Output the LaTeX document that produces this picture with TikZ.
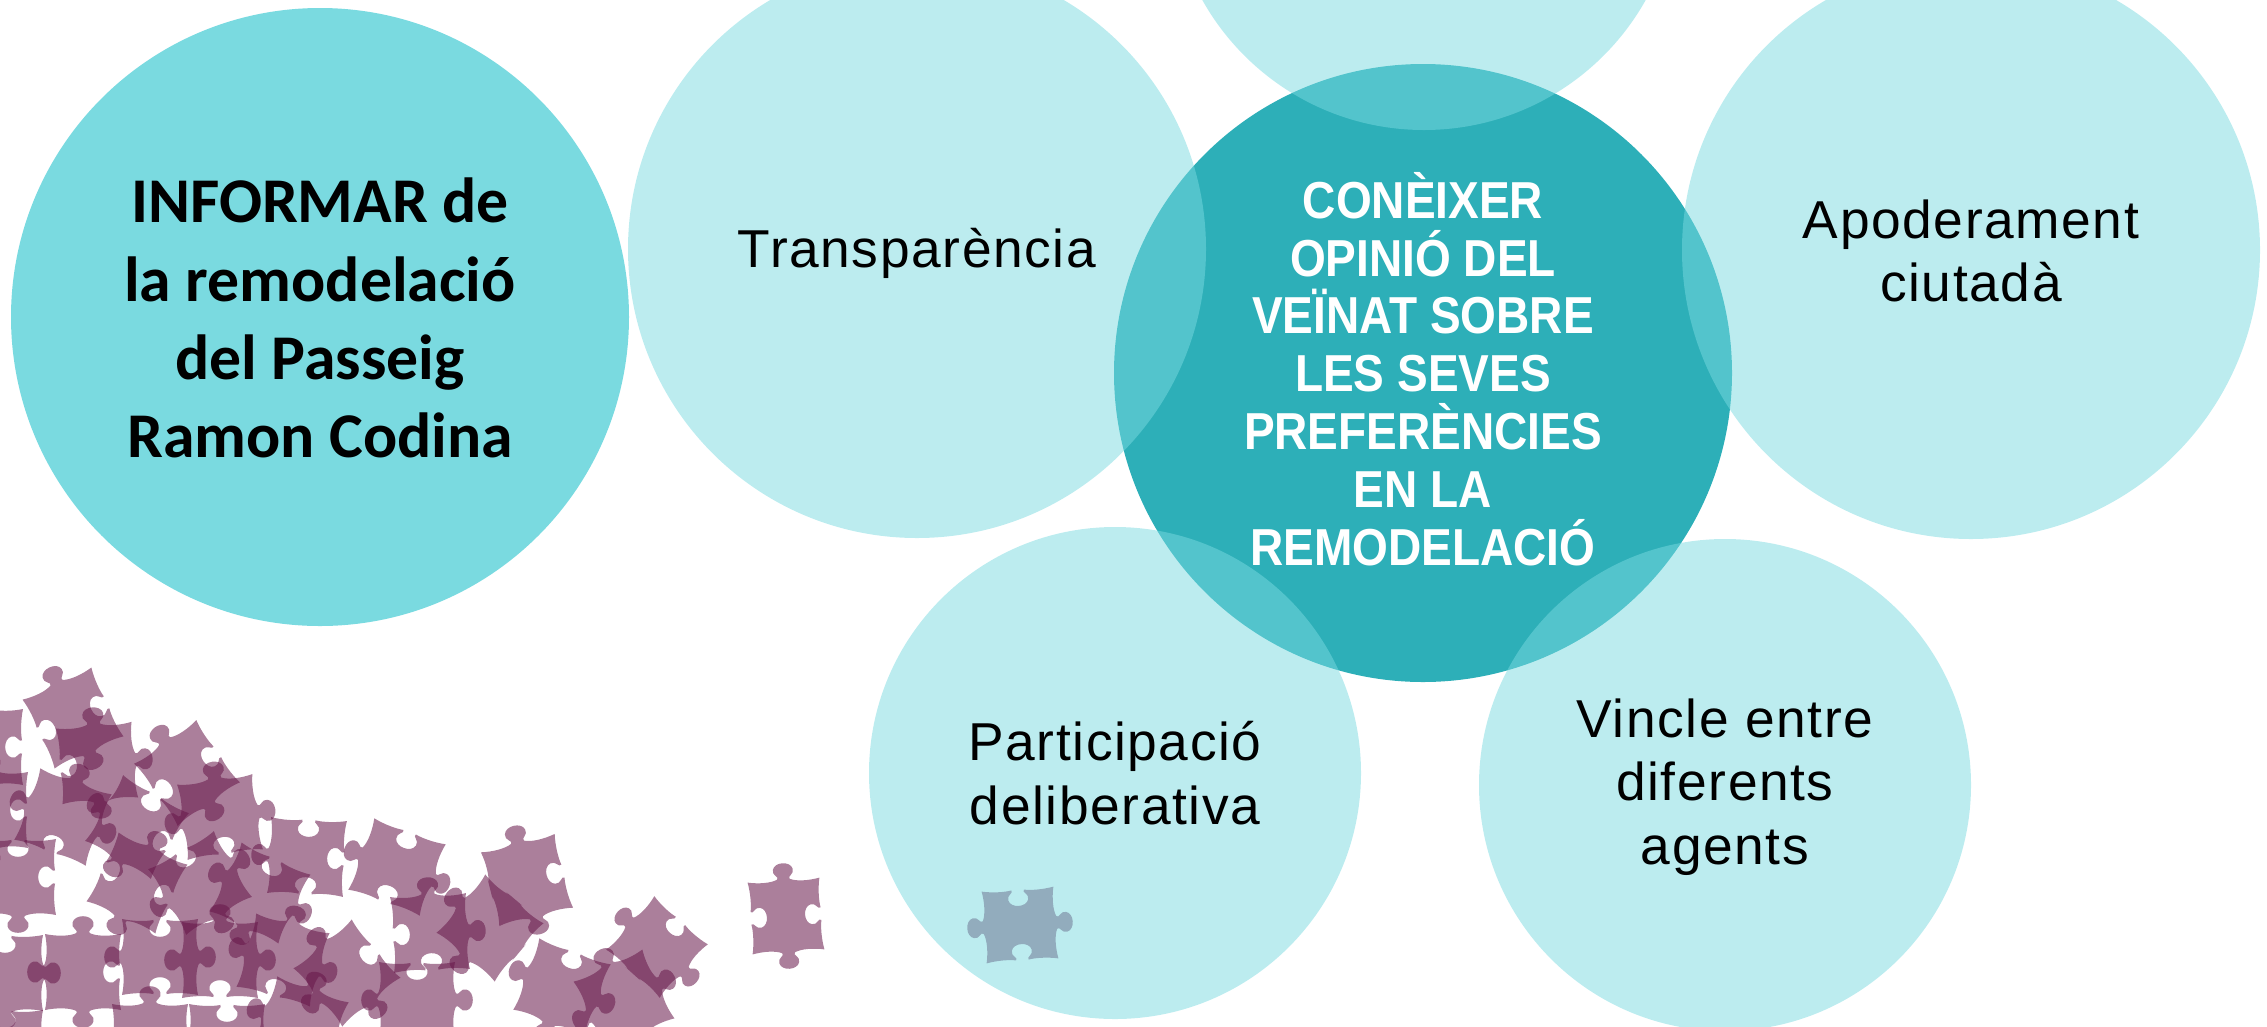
\documentclass[tikz,border=0pt]{standalone}
\usepackage{fontspec}
\setmainfont{Liberation Sans}
\newfontfamily\calib{Carlito}
\definecolor{lightc}{HTML}{7ADAE0}
\definecolor{darkc}{HTML}{2DAFB8}
\definecolor{pzc}{HTML}{661649}
\newcommand{\pzedge}[2]{%
 {[rotate=#1] .. controls (-28,37.5) and (-14,37.5) .. (-7,{40+1*#2})
 .. controls (-4,{40+4*#2}) and (-13,{40+6*#2}) .. (-11,{40+12*#2})
 .. controls (-9,{40+21*#2}) and (9,{40+21*#2}) .. (11,{40+12*#2})
 .. controls (13,{40+6*#2}) and (4,{40+4*#2}) .. (7,{40+1*#2})
 .. controls (14,37.5) and (28,37.5) .. (40,40)}}
% \pz{x}{y}{rot}{scale}{top}{right}{bottom}{left}
\newcommand{\pz}[8]{\fill[pzfill,shift={(#1,#2)},x=.75pt,y=.75pt,rotate=#3,scale=#4]
 (-40,40) \pzedge{0}{#5} \pzedge{-90}{#6} \pzedge{180}{#7} \pzedge{90}{#8} -- cycle;}
\tikzset{
 pzfill/.style={fill=pzc,fill opacity=.55},
 soft/.style={circle,inner sep=0pt,fill=lightc,fill opacity=.5},
 softtext/.style={font=\addfontfeatures{LetterSpace=3}\fontsize{40}{47.5}\selectfont,text=black,align=center},
}
\begin{document}
\begin{tikzpicture}[x=.75pt,y=-.75pt]
\clip (0,0) rectangle (2267,1026);
% puzzle pieces
\pz{73}{718}{25}{.95}{1}{-1}{1}{-1}
\pz{-15}{747}{0}{.95}{0}{-1}{1}{1}
\pz{97}{763}{5}{.95}{1}{1}{1}{-1}
\pz{63}{817}{-20}{.95}{1}{1}{-1}{1}
\pz{187}{773}{35}{.95}{1}{-1}{1}{-1}
\pz{220}{817}{8}{.95}{1}{1}{-1}{1}
\pz{137}{827}{-30}{.95}{-1}{-1}{1}{1}
\pz{-10}{810}{0}{.95}{1}{-1}{1}{0}
\pz{18}{877}{0}{.95}{-1}{-1}{1}{1}
\pz{137}{883}{-25}{.95}{1}{-1}{1}{-1}
\pz{200}{883}{30}{.95}{-1}{1}{1}{1}
\pz{260}{893}{-25}{.95}{-1}{1}{1}{1}
\pz{307}{857}{-3}{.95}{-1}{-1}{-1}{1}
\pz{397}{867}{-20}{.95}{-1}{1}{-1}{1}
\pz{83}{972}{0}{.95}{1}{-1}{1}{1}
\pz{5}{973}{0}{.95}{-1}{1}{1}{0}
\pz{160}{957}{0}{.95}{-1}{1}{-1}{1}
\pz{220}{960}{0}{.95}{1}{1}{-1}{1}
\pz{283}{960}{-15}{.95}{1}{1}{-1}{1}
\pz{347}{973}{40}{.95}{1}{-1}{1}{1}
\pz{430}{933}{3}{.95}{1}{1}{-1}{-1}
\pz{417}{1000}{0}{.95}{-1}{1}{1}{1}
\pz{150}{1042}{0}{.95}{1}{1}{1}{-1}
\pz{227}{1042}{0}{.95}{-1}{1}{1}{1}
\pz{300}{1025}{-20}{.95}{1}{1}{1}{1}
\pz{5}{1048}{0}{.95}{-1}{1}{1}{0}
\pz{527}{880}{14}{.95}{1}{-1}{1}{0}
\pz{490}{928}{-40}{.95}{0}{0}{1}{1}
\pz{657}{947}{-42}{.9}{-1}{1}{0}{1}
\pz{562}{987}{-20}{.95}{-1}{1}{1}{1}
\pz{624}{1000}{25}{.95}{1}{1}{1}{1}
\pz{786}{916}{4}{.9}{1}{-1}{1}{-1}
\pz{1020}{925}{4}{.9}{-1}{1}{-1}{1}
% circles
\node[circle,inner sep=0pt,minimum size=618*.75pt,fill=lightc] (informar) at (320,317) {};
\node[text=black,align=center,font=\calib\bfseries\fontsize{47.8}{58.7}\selectfont] (informart) at (320,318)
 {INFORMAR de\\la remodelació\\del Passeig\\Ramon Codina};
\node[circle,inner sep=0pt,minimum size=618*.75pt,fill=darkc] (coneixer) at (1423,373) {};
\node[text=white,align=center,font=\bfseries\addfontfeatures{FakeStretch=.885}\fontsize{39}{43.4}\selectfont] (coneixert) at (1423,369)
 {CONÈIXER\\OPINIÓ DEL\\VEÏNAT SOBRE\\LES SEVES\\PREFERÈNCIES\\EN LA\\REMODELACIÓ};
\node[soft,minimum size=508*.75pt] (top) at (1424,-124) {};
\node[soft,minimum size=578*.75pt] (transp) at (917,249) {};
\node[soft,minimum size=578*.75pt] (apod) at (1971,250) {};
\node[soft,minimum size=492*.75pt] (part) at (1115,773) {};
\node[soft,minimum size=492*.75pt] (vincle) at (1725,785) {};
% labels
\node[softtext] (transpt) at (917,253) {Transparència};
\node[softtext] (apodt) at (1971,251) {Apoderament\\ciutadà};
\node[softtext] (partt) at (1115,773) {Participació\\deliberativa};
\node[softtext] (vinclet) at (1725,787) {Vincle entre\\diferents\\agents};
\end{tikzpicture}
\end{document}
